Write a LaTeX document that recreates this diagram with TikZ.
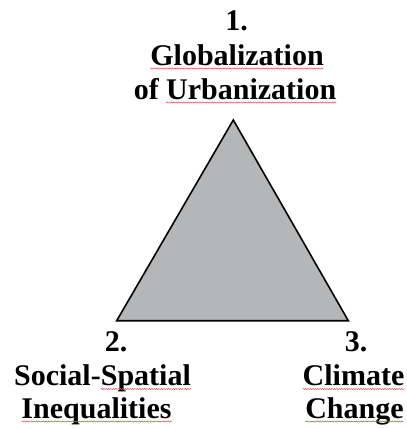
\documentclass[tikz,border=0pt]{standalone}
\usepackage{fontspec}
\setmainfont{Liberation Serif}
\usetikzlibrary{decorations.pathmorphing}
\definecolor{trifill}{RGB}{180,182,183}
\definecolor{squigred}{RGB}{225,80,80}
\begin{document}
\begin{tikzpicture}[x=1pt,y=-1pt,
  lbl/.style={inner sep=0pt,outer sep=0pt,font=\fontsize{30}{34}\selectfont\bfseries},
  ghost/.style={inner sep=0pt,outer sep=0pt,font=\fontsize{30}{34}\selectfont\bfseries},
  squig/.style={squigred,line width=0.5pt,decorate,
    decoration={zigzag,segment length=2.4pt,amplitude=0.6pt}}]
\useasboundingbox (0,0) rectangle (407,429);

% triangle corners
\coordinate (top) at (233.3,120);
\coordinate (bl) at (116.7,320.7);
\coordinate (br) at (348.3,320.7);
\draw[fill=trifill,line width=1.6pt,line join=miter] (top) -- (bl) -- (br) -- cycle;

% label 1
\node[lbl,anchor=base] (n1) at (236.5,30) {1.};
\node[lbl,anchor=base] (glob) at (237,65) {Globalization};
\node[lbl,anchor=base] (ofu) at (235,99) {of Urbanization};
\node[ghost,anchor=base east] (urb) at (ofu.base east) {\phantom{Urbanization}};

% label 2
\node[lbl,anchor=base] (n2) at (116,351.5) {2.};
\node[lbl,anchor=base] (soc) at (102.5,385.5) {Social-Spatial};
\node[ghost,anchor=base east] (spat) at (soc.base east) {\phantom{Spatial}};
\node[lbl,anchor=base] (ineq) at (96.5,418) {Inequalities};

% label 3
\node[lbl,anchor=base] (n3) at (356,351.5) {3.};
\node[lbl,anchor=base] (clim) at (353.5,385.5) {Climate};
\node[lbl,anchor=base] (chg) at (354.5,418) {Change};

% spelling marks under words
\foreach \w in {glob,urb,spat,ineq,clim,chg}
  \draw[squig] ([yshift=-3.5pt]\w.base west) -- ([yshift=-3.5pt]\w.base east);
\end{tikzpicture}
\end{document}
